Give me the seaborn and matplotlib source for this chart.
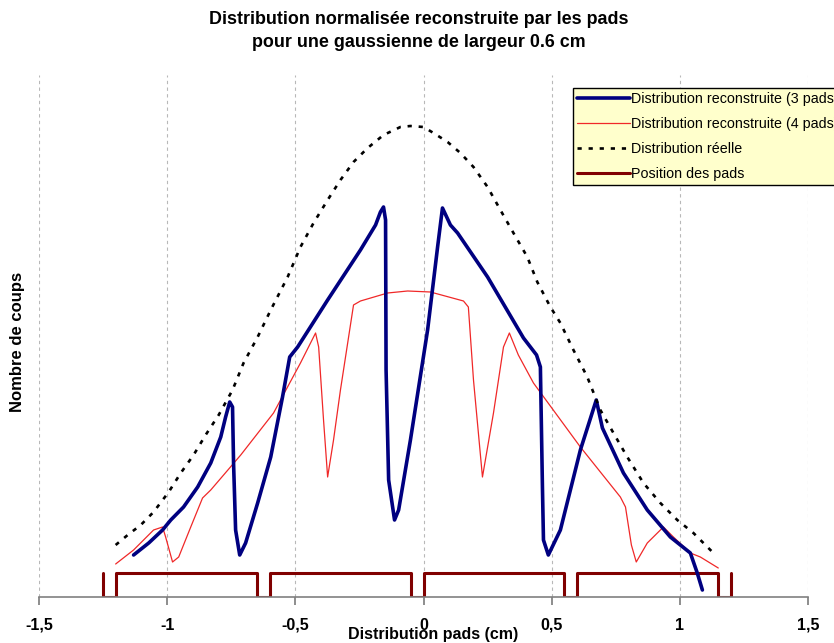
import matplotlib.pyplot as plt
import pandas as pd
import seaborn as sns

# real distribution (dotted)
x_reel = [-1.201, -1.154, -1.103, -1.053, -0.994, -0.947, -0.897, -0.850, -0.799, -0.745,
          -0.702, -0.647, -0.596, -0.530, -0.480, -0.429, -0.374, -0.324, -0.273, -0.218,
          -0.156, -0.090, -0.051, 0.000, 0.039, 0.094, 0.144, 0.195, 0.250, 0.300,
          0.351, 0.405, 0.444, 0.495, 0.534, 0.585, 0.639, 0.690, 0.741, 0.795,
          0.858, 0.924, 0.990, 1.053, 1.131]
y_reel = [52, 62, 72, 85, 105, 124, 142, 162, 182, 207,
          234, 260, 287, 320, 350, 374, 397, 417, 435, 449,
          462, 470, 471, 470, 464, 455, 444, 430, 410, 387,
          364, 340, 315, 290, 274, 247, 220, 187, 164, 140,
          114, 94, 77, 64, 44]

# reconstruction with 3 pads
x_3pads = [-1.131, -1.072, -1.018, -0.986, -0.936, -0.881, -0.830, -0.791, -0.772, -0.756,
           -0.745, -0.741, -0.733, -0.717, -0.694, -0.647, -0.596, -0.550, -0.522, -0.491,
           -0.374, -0.246, -0.187, -0.168, -0.156, -0.148, -0.146, -0.136, -0.113, -0.097,
           -0.051, 0.016, 0.055, 0.074, 0.105, 0.133, 0.250, 0.390, 0.441, 0.456,
           0.464, 0.468, 0.487, 0.534, 0.612, 0.674, 0.698, 0.780, 0.873, 0.963,
           1.041, 1.068, 1.088]
y_3pads = [42, 54, 67, 77, 90, 110, 134, 160, 180, 195,
           190, 134, 67, 42, 54, 94, 140, 200, 240, 250,
           297, 347, 372, 385, 390, 377, 227, 117, 77, 87,
           157, 267, 350, 389, 372, 364, 320, 259, 242, 230,
           110, 57, 42, 67, 147, 197, 169, 124, 87, 60,
           44, 24, 7]

# reconstruction with 4 pads
x_4pads = [-1.201, -1.131, -1.053, -1.018, -1.006, -0.979, -0.955, -0.908, -0.862, -0.830,
           -0.713, -0.585, -0.480, -0.421, -0.409, -0.390, -0.374, -0.351, -0.324, -0.273,
           -0.246, -0.140, -0.062, 0.027, 0.156, 0.175, 0.195, 0.230, 0.273, 0.312,
           0.335, 0.370, 0.429, 0.612, 0.768, 0.788, 0.811, 0.830, 0.873, 0.936,
           0.975, 1.041, 1.080, 1.150]
y_4pads = [33, 47, 67, 70, 60, 35, 40, 70, 99, 107,
           142, 184, 234, 264, 250, 177, 120, 157, 207, 292,
           296, 304, 306, 305, 296, 290, 217, 120, 184, 250,
           264, 242, 214, 150, 100, 90, 52, 35, 54, 70,
           60, 44, 40, 29]

# pad positions (step outline)
x_pads = [-1.25, -1.25, -1.2, -1.2, -0.65, -0.65, -0.6, -0.6, -0.05, -0.05,
          0.0, 0.0, 0.55, 0.55, 0.6, 0.6, 1.15, 1.15, 1.2, 1.2]
y_pads = [24, 0, 0, 24, 24, 0, 0, 24, 24, 0,
          0, 24, 24, 0, 0, 24, 24, 0, 0, 24]

x_ticks = [-1.5, -1, -0.5, 0, 0.5, 1, 1.5]
x_tick_labels = ['-1,5', '-1', '-0,5', '0', '0,5', '1', '1,5']

sns.set_theme(style='white')
plt.rcParams['font.family'] = ['Liberation Sans', 'DejaVu Sans']
plt.rcParams['text.color'] = 'black'
plt.rcParams['xtick.labelcolor'] = 'black'

fig = plt.figure(figsize=(8.34, 6.43), dpi=100)
ax = fig.add_axes([39 / 834, 1 - 597 / 643, 769 / 834, 522 / 643])

reel = pd.DataFrame({'x': x_reel, 'y': y_reel})
r3 = pd.DataFrame({'x': x_3pads, 'y': y_3pads})
r4 = pd.DataFrame({'x': x_4pads, 'y': y_4pads})
pads = pd.DataFrame({'x': x_pads, 'y': y_pads})

sns.lineplot(r3, x='x', y='y', sort=False, estimator=None, color='#000080', lw=2.6,
             label='Distribution reconstruite (3 pads)', ax=ax, zorder=4)
sns.lineplot(r4, x='x', y='y', sort=False, estimator=None, color='#F02828', lw=0.9,
             label='Distribution reconstruite (4 pads)', ax=ax, zorder=3)
sns.lineplot(reel, x='x', y='y', sort=False, estimator=None, color='black', lw=1.9,
             linestyle=(0, (1.6, 2.6)), label='Distribution réelle', ax=ax, zorder=5)
sns.lineplot(pads, x='x', y='y', sort=False, estimator=None, color='#800000', lw=2.2,
             label='Position des pads', ax=ax, zorder=2)

ax.set_xlim(-1.5, 1.5)
ax.set_ylim(0, 522)
ax.set_xticks(x_ticks)
ax.set_xticklabels(x_tick_labels, fontsize=11.5, fontweight='bold', color='black')
ax.set_yticks([])
ax.tick_params(axis='x', direction='out', length=6, color='#808080', bottom=True, pad=9)
for s in ['left', 'right', 'top']:
    ax.spines[s].set_visible(False)
ax.spines['bottom'].set_color('#808080')
ax.spines['bottom'].set_linewidth(1.2)
ax.xaxis.grid(True, linestyle=(0, (3, 3)), color='#b8b8b8', lw=0.8)
ax.set_xlabel('')
ax.set_ylabel('')

fig.text(433 / 834, 1 - 634 / 643, 'Distribution pads (cm)', ha='center', va='center',
         fontsize=11.5, fontweight='bold', color='black')
fig.text(18 / 834, 1 - 342 / 643, 'Nombre de coups', ha='center', va='center',
         rotation=90, fontsize=12, fontweight='bold', color='black')
fig.text(419 / 834, 1 - 31 / 643,
         'Distribution normalisée reconstruite par les pads\npour une gaussienne de largeur 0.6 cm',
         ha='center', va='center', fontsize=12.9, fontweight='bold', linespacing=1.5,
         color='black')

leg = ax.legend(loc='upper left', bbox_to_anchor=(0.694, 0.975), borderaxespad=0,
                fontsize=10.3, frameon=True, fancybox=False, facecolor='#FFFFCC',
                edgecolor='black', handlelength=3.7, handletextpad=0.1,
                labelspacing=0.75, borderpad=0.3, labelcolor='black')
leg.get_frame().set_linewidth(1)
leg.get_frame().set_alpha(1)
leg.set_zorder(10)

fig.savefig('out.png', dpi=100)
